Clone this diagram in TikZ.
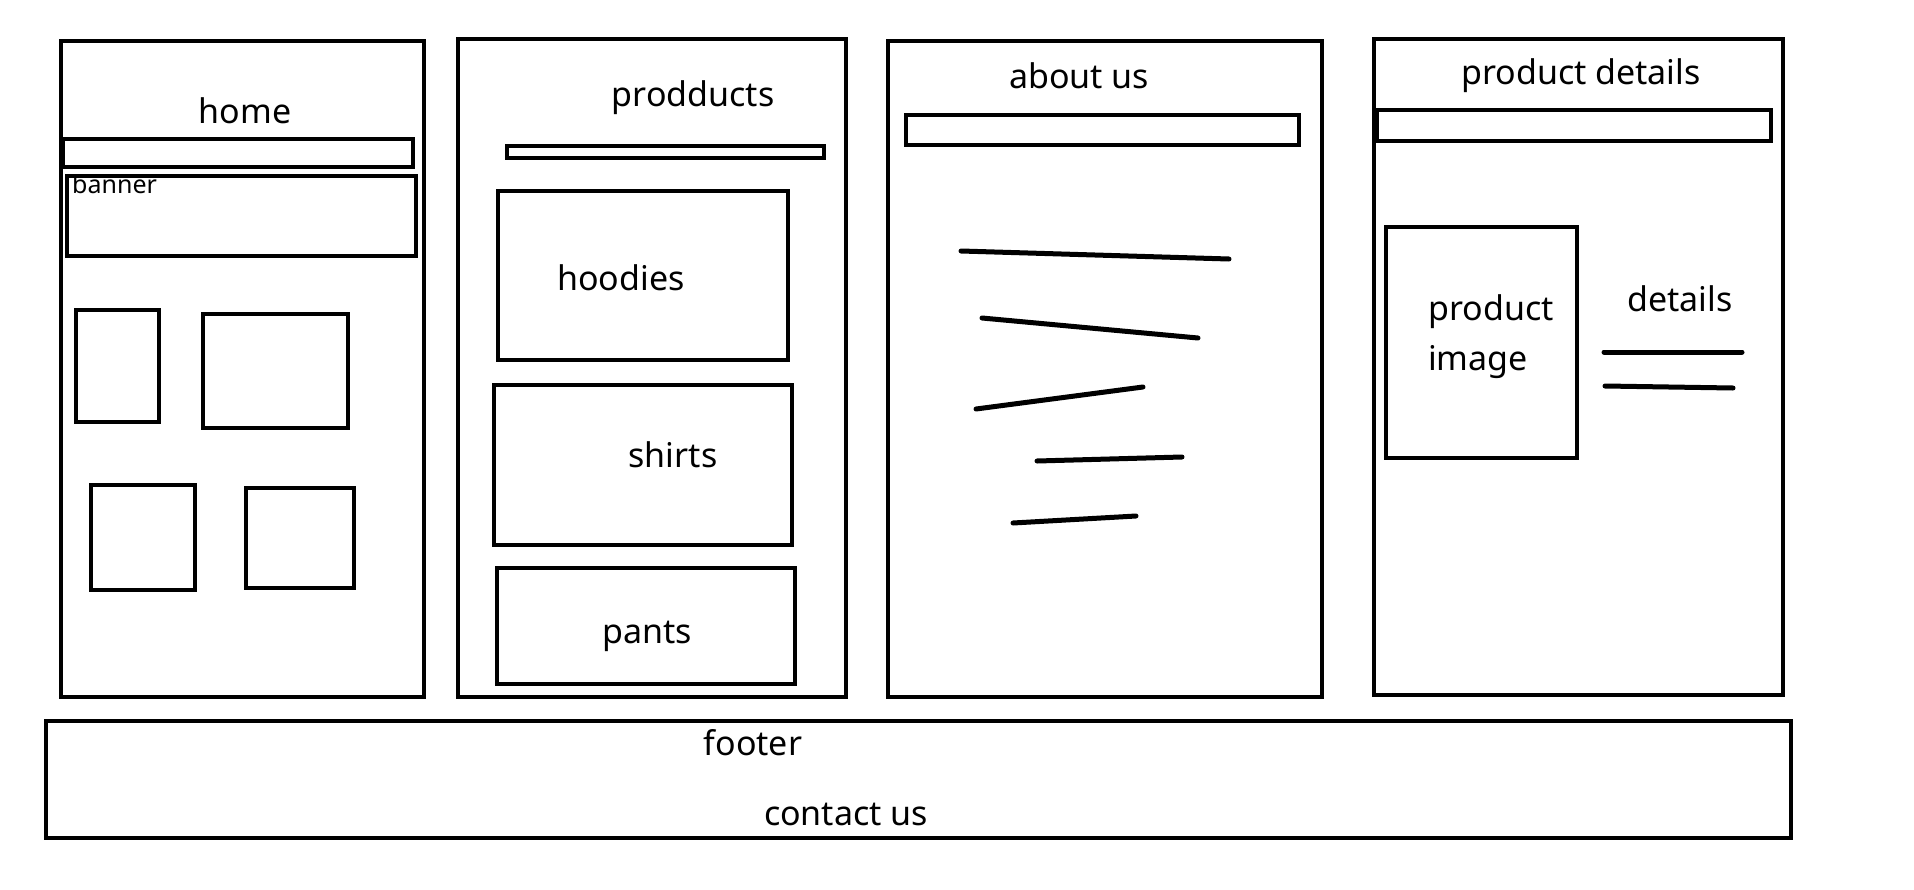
\documentclass[tikz,border=0pt]{standalone}
\usepackage{fontspec}
\setmainfont{Noto Sans}
\begin{document}
\begin{tikzpicture}[x=1pt,y=-1pt,
  frame/.style={draw=black,line width=4.6pt},
  scribble/.style={draw=black,line width=5pt,line cap=round},
  label/.style={inner sep=0pt,anchor=base,font=\fontsize{34}{40}\selectfont},
  leftlabel/.style={inner sep=0pt,anchor=base west,font=\fontsize{34}{40}\selectfont},
  smalllabel/.style={inner sep=0pt,anchor=base west,font=\fontsize{25}{30}\selectfont}]
\useasboundingbox[fill=white] (0,0) rectangle (1914,889);

% page frames
\draw[frame] (61,41) rectangle (424,697);
\draw[frame] (458,39) rectangle (846,697);
\draw[frame] (888,41) rectangle (1322,697);
\draw[frame] (1374,39) rectangle (1783,695);
\draw[frame] (46,721) rectangle (1791,838);

% home page
\draw[frame] (63,139) rectangle (413,167);
\draw[frame] (67,176) rectangle (416,256);
\draw[frame] (76,310) rectangle (159,422);
\draw[frame] (203,314) rectangle (348,428);
\draw[frame] (91,485) rectangle (195,590);
\draw[frame] (246,488) rectangle (354,588);
\node[label] (home) at (245,123) {home};
\node[smalllabel] (banner) at (72,193) {banner};

% products page
\draw[frame] (507,146) rectangle (824,158);
\draw[frame] (498,191) rectangle (788,360);
\draw[frame] (494,385) rectangle (792,545);
\draw[frame] (497,568) rectangle (795,684);
\node[label] (products) at (693,106) {prodducts};
\node[label] (hoodies) at (621,290) {hoodies};
\node[label] (shirts) at (673,467) {shirts};
\node[label] (pants) at (647,643) {pants};

% about us page
\draw[frame] (906,115) rectangle (1299,145);
\node[label] (about) at (1079,88) {about us};
\draw[scribble] (961,251) -- (1229,259);
\draw[scribble] (982,318) -- (1198,338);
\draw[scribble] (976,409) -- (1143,387);
\draw[scribble] (1037,461) -- (1182,457);
\draw[scribble] (1013,523) -- (1136,516);

% product details page
\draw[frame] (1377,110) rectangle (1771,141);
\draw[frame] (1386,227) rectangle (1577,458);
\node[label] (pdetails) at (1581,84) {product details};
\node[leftlabel] (product) at (1428,320) {product};
\node[leftlabel] (image) at (1428,370) {image};
\node[label] (details) at (1680,311) {details};
\draw[scribble] (1604,352) -- (1742,352);
\draw[scribble] (1605,386) -- (1733,388);

% footer
\node[label] (footer) at (753,755) {footer};
\node[label] (contact) at (846,825) {contact us};
\end{tikzpicture}
\end{document}
